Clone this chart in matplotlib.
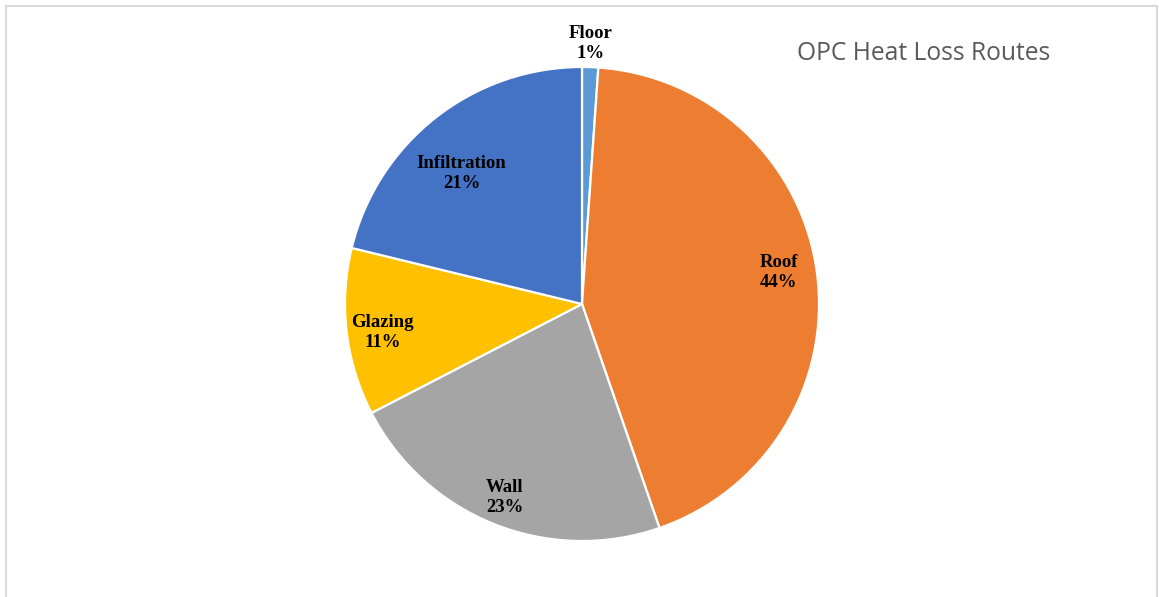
import numpy as np
import matplotlib
matplotlib.use("Agg")
import matplotlib.pyplot as plt
from matplotlib.patches import Rectangle

labels = ["Floor", "Roof", "Wall", "Glazing", "Infiltration"]
values = [1.1, 43.6, 22.7, 11.4, 21.2]
colors = ["#5B9BD5", "#ED7D31", "#A5A5A5", "#FFC000", "#4472C4"]
label_radii = [1.10, 0.84, 0.88, 0.85, 0.75]
label_angle_shift = [0.0, 1.6, 0.0, 1.2, 4.5]
title = "OPC Heat Loss Routes"

W, H = 1159, 597
fig = plt.figure(figsize=(W / 100, H / 100), dpi=100)
fig.patch.set_facecolor("white")

# frame
fig.patches.append(Rectangle((6 / W, -0.05), (1157 - 6) / W, (H - 6) / H + 0.05,
                             transform=fig.transFigure, fill=False,
                             edgecolor="#D9D9D9", linewidth=1.5))

cx, cy, R = 582, 304, 237
ax = fig.add_axes([(cx - R) / W, (H - cy - R) / H, 2 * R / W, 2 * R / H])
wedges, _ = ax.pie(values, colors=colors, startangle=90, counterclock=False,
                   radius=1.0, wedgeprops=dict(edgecolor="white", linewidth=1.6))
ax.set_xlim(-1, 1)
ax.set_ylim(-1, 1)
ax.set_aspect("equal")
ax.axis("off")

total = sum(values)
cum = 0
for lab, v, r, sh in zip(labels, values, label_radii, label_angle_shift):
    mid = cum + v / 2
    ang = np.deg2rad(90 - 360 * mid / total + sh)
    ax.text(r * np.cos(ang), r * np.sin(ang), f"{lab}\n{round(v)}%",
            ha="center", va="center", fontsize=13.5, fontweight="bold",
            family="Liberation Serif", color="black", linespacing=1.22)
    cum += v

fig.text(924 / W, 1 - 53 / H, title, ha="center", va="center",
         fontsize=17.7, color="#595959", family="Open Sans")

fig.savefig("out.png", dpi=100)
